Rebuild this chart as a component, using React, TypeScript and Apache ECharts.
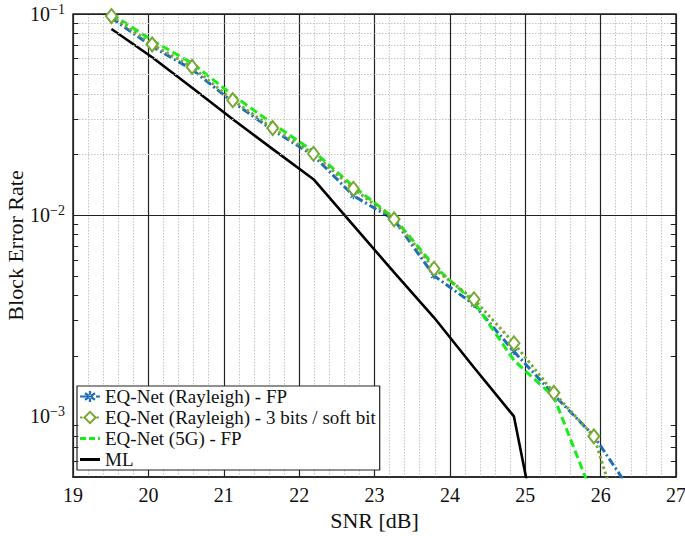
import React, { useEffect, useRef } from "react";
import * as echarts from "echarts";

// SNR sample points [dB]
const snr = [19.51, 20.05, 20.58, 21.12, 21.65, 22.19, 22.72, 23.26, 23.79, 24.32, 24.85, 25.38, 25.91, 26.45];

// Block error rates
const eqRayleighFP = [0.0955, 0.069, 0.053, 0.0365, 0.0265, 0.0198, 0.0125, 0.0095, 0.005, 0.0036, 0.0021, 0.00128, 0.0008, 0.0004];
const eqRayleigh3bit = [0.0977, 0.0706, 0.0546, 0.0373, 0.0271, 0.0202, 0.01353, 0.00954, 0.00542, 0.00382, 0.00231, 0.00131, 0.000796, 0.00018];
const eq5GFP = [0.1, 0.074, 0.057, 0.0395, 0.0285, 0.0208, 0.0139, 0.0097, 0.0056, 0.0037, 0.0019, 0.00125, 0.00039];
const ml = [0.0842, 0.061, 0.043, 0.03, 0.0213, 0.0151, 0.0089, 0.0052, 0.0031, 0.00175, 0.001, 0.0001];

const seriesNames = [
  "EQ-Net (Rayleigh) - FP",
  "EQ-Net (Rayleigh) - 3 bits / soft bit",
  "EQ-Net (5G) - FP",
  "ML",
];

const xTicks = { min: 19, max: 27, interval: 1 };
const yRange = { min: 0.0005, max: 0.1 };
const majorDecades = [0.1, 0.01, 0.001];
const minorMultipliers = [2, 3, 4, 5, 6, 7, 8, 9];
const minorDecades = [0.0001, 0.001, 0.01];

const FONT = "Liberation Serif";

const asterisk =
  "path://M-0.9,-5L0.9,-5L0.9,5L-0.9,5Z M3.6,3.7L4.5,2.1L-3.6,-3.7L-4.5,-2.1Z M-4.5,2.1L-3.6,3.7L4.5,-2.1L3.6,-3.7Z";
const solidIcon = "path://M0,0L20,0L20,3L0,3Z";
const dashedIcon = "path://M0,0L6,0L6,3L0,3Z M9,0L15,0L15,3L9,3Z M18,0L20,0L20,3L18,3Z";

function pairs(xs: number[], ys: number[]) {
  return ys.map((y, i) => [xs[i], y]);
}

export default function App() {
  const ref = useRef<HTMLDivElement>(null);
  useEffect(() => {
    if (!ref.current) return;
    const chart = echarts.init(ref.current, undefined, { renderer: "svg" });

    const minorValues: number[] = [];
    minorDecades.forEach((d) =>
      minorMultipliers.forEach((m) => {
        const v = +(d * m).toPrecision(3);
        if (v >= yRange.min - 1e-12 && v < yRange.max) minorValues.push(v);
      })
    );
    const tickLen = 0.07;
    const gridLines: any[] = [];
    minorValues.forEach((v) => {
      gridLines.push({ yAxis: v, lineStyle: { color: "#c4c4c4", type: [1.5, 1.5], width: 1 } });
    });
    majorDecades.forEach((v) => {
      gridLines.push({ yAxis: v, lineStyle: { color: "#222", type: "solid", width: 1.2 } });
    });
    minorValues.forEach((v) => {
      gridLines.push([
        { coord: [xTicks.min, v], lineStyle: { color: "#222", type: "solid", width: 1 } },
        { coord: [xTicks.min + tickLen, v] },
      ]);
      gridLines.push([
        { coord: [xTicks.max - tickLen, v], lineStyle: { color: "#222", type: "solid", width: 1 } },
        { coord: [xTicks.max, v] },
      ]);
    });

    const option: any = {
      animation: false,
      backgroundColor: "#fff",
      textStyle: { fontFamily: FONT },
      grid: {
        left: 73,
        right: 9,
        top: 14,
        bottom: 59,
        containLabel: false,
        outerBoundsMode: "none",
        show: true,
        borderColor: "#222",
        borderWidth: 1.5,
        backgroundColor: "transparent",
      },
      legend: {
        data: [
          { name: seriesNames[0] },
          { name: seriesNames[1] },
          { name: seriesNames[2], icon: dashedIcon },
          { name: seriesNames[3], icon: solidIcon },
        ],
        orient: "vertical",
        left: 77,
        top: 386,
        padding: [1, 4, 1, 2],
        itemGap: 2,
        itemWidth: 20,
        itemHeight: 14,
        backgroundColor: "#fff",
        borderColor: "#222",
        borderWidth: 1.2,
        borderRadius: 0,
        textStyle: { fontFamily: FONT, fontSize: 19, color: "#111", lineHeight: 19 },
      },
      xAxis: {
        type: "value",
        min: xTicks.min,
        max: xTicks.max,
        interval: xTicks.interval,
        name: "SNR [dB]",
        nameLocation: "middle",
        nameGap: 32,
        nameMoveOverlap: false,
        nameTextStyle: { fontFamily: FONT, fontSize: 22, color: "#111" },
        axisLine: { show: true, lineStyle: { color: "#222", width: 1.5 } },
        axisTick: { show: true, inside: true, length: 5, lineStyle: { color: "#222" } },
        axisLabel: { fontFamily: FONT, fontSize: 20, color: "#111", margin: 8 },
        splitLine: { show: true, lineStyle: { color: "#222", width: 1.2 } },
        minorTick: { show: false, splitNumber: 5 },
        minorSplitLine: { show: true, lineStyle: { color: "#c4c4c4", type: [1.5, 1.5], width: 1 } },
      },
      yAxis: {
        type: "log",
        logBase: 10,
        min: yRange.min,
        max: yRange.max,
        name: "Block Error Rate",
        nameLocation: "middle",
        nameGap: 47,
        nameMoveOverlap: false,
        nameTextStyle: { fontFamily: FONT, fontSize: 22, color: "#111" },
        axisLine: { show: false },
        axisTick: { show: false },
        splitLine: { show: false },
        axisLabel: {
          margin: 8,
          formatter: (v: number) => {
            const l = Math.log10(v);
            const e = Math.round(l);
            if (Math.abs(l - e) > 1e-6) return "";
            return `{b|10}{s|${e < 0 ? "\u2212" + Math.abs(e) : e}}`;
          },
          rich: {
            b: { fontFamily: FONT, fontSize: 20, color: "#111", lineHeight: 24 },
            s: { fontFamily: FONT, fontSize: 14, color: "#111", lineHeight: 13, verticalAlign: "top" },
          },
        },
      },
      series: [
        {
          name: "__grid",
          type: "line",
          data: [],
          z: 1,
          silent: true,
          markLine: {
            silent: true,
            symbol: ["none", "none"],
            label: { show: false },
            animation: false,
            data: gridLines,
          },
        },
        {
          name: seriesNames[3],
          type: "line",
          data: pairs(snr, ml),
          symbol: "none",
          z: 2,
          lineStyle: { color: "#000", width: 2.6 },
          itemStyle: { color: "#000" },
        },
        {
          name: seriesNames[0],
          type: "line",
          data: pairs(snr, eqRayleighFP),
          symbol: asterisk,
          symbolSize: 7,
          z: 3,
          lineStyle: { color: "#1f6fb8", width: 3, type: [8, 3, 2, 3] },
          itemStyle: { color: "#1f6fb8" },
        },
        {
          name: seriesNames[2],
          type: "line",
          data: pairs(snr, eq5GFP),
          symbol: "none",
          z: 4,
          lineStyle: { color: "#19ec19", width: 3, type: [8, 4] },
          itemStyle: { color: "#19ec19" },
        },
        {
          name: seriesNames[1],
          type: "line",
          data: pairs(snr, eqRayleigh3bit),
          symbol: "emptyDiamond",
          symbolSize: [11, 14],
          z: 5,
          lineStyle: { color: "#77a832", width: 3, type: [2.5, 3] },
          itemStyle: { color: "#77a832", borderColor: "#77a832", borderWidth: 3 },
        },
      ],
    };
    chart.setOption(option);
    return () => chart.dispose();
  }, []);
  return (
    <div
      ref={ref}
      style={{ position: "fixed", left: 0, top: 0, width: 685, height: 536, background: "#fff" }}
    />
  );
}
